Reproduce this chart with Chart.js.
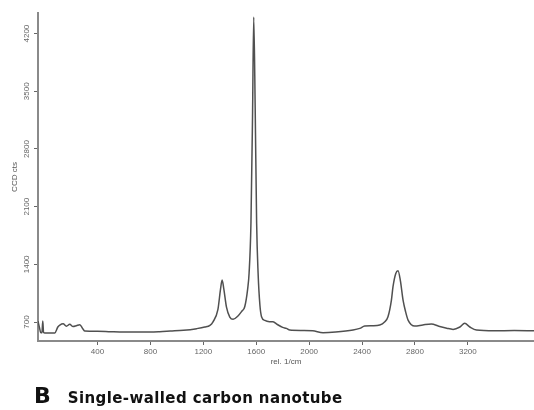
<!DOCTYPE html>
<html>
<head>
<meta charset="utf-8">
<script src="https://cdn.jsdelivr.net/npm/chart.js@4/dist/chart.umd.min.js"></script>
<style>
  body { margin: 0; background: #fff; }
  #wrap { position: relative; width: 534px; height: 410px; }
  #caption { position: absolute; left: 34px; top: 383px; font-family: "DejaVu Sans", sans-serif; font-weight: bold; color: #111; white-space: nowrap; }
  #caption .big { font-size: 22px; margin-right: 17px; }
  #caption .txt { font-size: 15px; letter-spacing: 0.4px; }
</style>
</head>
<body>
<div id="wrap">
  <canvas id="cht" width="534" height="410"></canvas>
  <div id="caption"><span class="big">B</span><span class="txt">Single-walled carbon nanotube</span></div>
</div>
<script>
// raman shift (rel. 1/cm) and counts
const shift = [-50, -40, -30, -20, -14, -8, 2, 40, 77, 100, 115, 140, 165, 190, 215, 240, 266, 290, 304,
  400, 500, 600, 700, 800, 870, 950, 1050, 1150, 1211, 1250, 1272, 1310, 1330, 1342, 1355, 1375, 1400, 1425,
  1460, 1490, 1513, 1535, 1546, 1560, 1572, 1581, 1592, 1603, 1614, 1628, 1640, 1665, 1700, 1727, 1760, 1800,
  1828, 1853, 1950, 2027, 2105, 2200, 2332, 2383, 2420, 2480, 2534, 2570, 2596, 2622, 2634, 2655, 2672, 2690,
  2710, 2730, 2748, 2798, 2860, 2924, 2980, 3040, 3088, 3140, 3176, 3215, 3265, 3400, 3550, 3700];
const counts = [712, 640, 575, 570, 712, 575, 566, 566, 568, 640, 664, 680, 650, 672, 645, 655, 668, 615, 591,
  588, 582, 578, 580, 578, 582, 590, 600, 620, 639, 660, 700, 850, 1100, 1210, 1100, 880, 760, 733,
  770, 830, 886, 1100, 1295, 1900, 3200, 4400, 3300, 1900, 1295, 900, 765, 720, 705, 704, 670, 635,
  623, 603, 598, 594, 570, 578, 603, 623, 651, 655, 664, 700, 765, 967, 1129, 1290, 1323, 1200,
  967, 820, 724, 651, 665, 676, 650, 625, 611, 640, 684, 640, 603, 594, 596, 594];

const xTicks = [400, 800, 1200, 1600, 2000, 2400, 2800, 3200];
const yTicks = [700, 1400, 2100, 2800, 3500, 4200];

const points = shift.map((s, i) => ({x: s, y: counts[i]}));
const tickFont = {family: "Liberation Sans", size: 8};

// y labels are drawn turned on their side, like the original
const sideLabels = {
  id: "sideLabels",
  afterDraw(chart) {
    const ctx = chart.ctx;
    const yScale = chart.scales.y;
    ctx.save();
    ctx.fillStyle = "#666";
    ctx.font = "8px Liberation Sans";
    ctx.textAlign = "center";
    ctx.textBaseline = "middle";
    yTicks.forEach(v => {
      ctx.save();
      ctx.translate(27, yScale.getPixelForValue(v));
      ctx.rotate(-Math.PI / 2);
      ctx.fillText(String(v), 0, 0);
      ctx.restore();
    });
    ctx.restore();
  }
};

const chart = new Chart(document.getElementById("cht"), {
  type: "line",
  data: {
    datasets: [{
      data: points,
      borderColor: "#505050",
      borderWidth: 1.5,
      pointRadius: 0,
      cubicInterpolationMode: "monotone"
    }]
  },
  options: {
    responsive: false,
    animation: false,
    layout: { padding: { top: 13, right: 0, bottom: 43, left: 0 } },
    plugins: { legend: { display: false }, tooltip: { enabled: false } },
    scales: {
      x: {
        type: "linear",
        min: -50,
        max: 3700,
        afterBuildTicks: s => { s.ticks = xTicks.map(v => ({value: v})); },
        afterFit: s => { s.height = 26; },
        border: { color: "#8a8a8a", width: 2 },
        grid: { drawOnChartArea: false, color: "#666", tickLength: 4 },
        ticks: { font: tickFont, color: "#666", padding: 2, maxRotation: 0, callback: v => String(v) },
        title: { display: true, text: "rel. 1/cm", font: tickFont, color: "#555", padding: 0 }
      },
      y: {
        min: 470,
        max: 4450,
        afterBuildTicks: s => { s.ticks = yTicks.map(v => ({value: v})); },
        afterFit: s => { s.width = 38; },
        border: { color: "#8a8a8a", width: 2 },
        grid: { drawOnChartArea: false, color: "#666", tickLength: 4 },
        ticks: { display: false },
        title: { display: true, text: "CCD cts", font: tickFont, color: "#555", padding: { top: 10, bottom: 0 } }
      }
    }
  },
  plugins: [sideLabels]
});
</script>
</body>
</html>
